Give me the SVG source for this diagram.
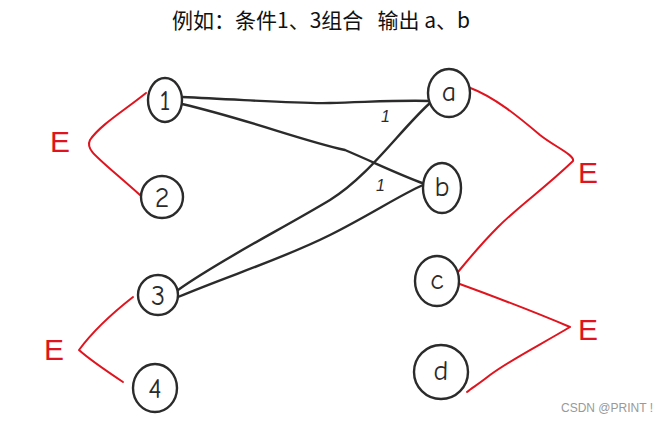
<svg xmlns="http://www.w3.org/2000/svg" width="671" height="422" viewBox="0 0 671 422">
<style>
.node ellipse{fill:#fff;stroke:#2b2b2b;stroke-width:2.4}
.node text{font-family:"Comic Neue","Liberation Sans",sans-serif;font-size:28px;fill:#2b2b2b;text-anchor:middle;dominant-baseline:central}
.blk{fill:none;stroke:#2b2b2b;stroke-width:2.4;stroke-linecap:round;stroke-linejoin:round}
.red{fill:none;stroke:#e0141e;stroke-width:2;stroke-linecap:round;stroke-linejoin:round}
.e{font-family:"Liberation Sans",sans-serif;font-size:30px;fill:#e0141e}
.mark{font-family:"Liberation Sans",sans-serif;font-size:16px;font-style:italic;fill:#2b2b2b}
</style>
<rect width="671" height="422" fill="#fff"/>
<text x="321" y="28" font-family="'Microsoft YaHei','Noto Sans CJK SC',sans-serif" font-size="21" fill="#111" text-anchor="middle" xml:space="preserve">例如：条件1、3组合   输出 a、b</text>
<g id="connectors">
<path class="blk" d="M182,97 C250,100 300,104 330,103 C370,102 400,100 430,101"/>
<path class="blk" d="M182,104 C250,120 300,140 345,150 C380,165 400,175 425,184"/>
<path class="blk" d="M178,290 C220,260 280,230 330,200 C370,175 400,130 430,103"/>
<path class="blk" d="M178,297 C230,275 280,260 330,235 C370,215 400,195 423,185" stroke-width="3.2"/>
<path class="red" d="M146,93 C125,110 100,125 90,140 C85,150 95,155 140,195"/>
<path class="red" d="M133,297 C110,315 90,335 79,350 C90,360 105,370 123,382"/>
<path class="red" d="M468,87 C495,97 520,118 540,135 C555,147 575,155 573,161 C545,188 520,205 498,227 C480,245 468,260 458,272"/>
<path class="red" d="M457,283 C490,295 530,310 570,327 C540,345 510,360 490,375 C480,383 472,388 467,392"/>
</g>
<text class="mark" x="381" y="122">1</text>
<text class="mark" x="376" y="191">1</text>
<text class="e" x="50" y="152">E</text>
<text class="e" x="44" y="360">E</text>
<text class="e" x="578" y="183">E</text>
<text class="e" x="578" y="340">E</text>
<g id="n1" class="node"><ellipse cx="165" cy="100" rx="17" ry="22"/><text x="165" y="101">1</text></g>
<g id="n2" class="node"><ellipse cx="162" cy="197" rx="21" ry="21"/><text x="162" y="198">2</text></g>
<g id="n3" class="node"><ellipse cx="158" cy="295" rx="20" ry="20"/><text x="158" y="296">3</text></g>
<g id="n4" class="node"><ellipse cx="155" cy="388" rx="22" ry="24"/><text x="155" y="389">4</text></g>
<g id="na" class="node"><ellipse cx="449" cy="93" rx="21" ry="24"/><text x="449" y="92">a</text></g>
<g id="nb" class="node"><ellipse cx="442" cy="188" rx="19" ry="25"/><text x="442" y="187">b</text></g>
<g id="nc" class="node"><ellipse cx="437" cy="281" rx="22" ry="25"/><text x="437" y="280">c</text></g>
<g id="nd" class="node"><ellipse cx="441" cy="372" rx="27" ry="27"/><text x="441" y="371">d</text></g>
<text x="561" y="412" font-family="'Liberation Sans',sans-serif" font-size="12" fill="#999">CSDN @PRINT !</text>
</svg>
